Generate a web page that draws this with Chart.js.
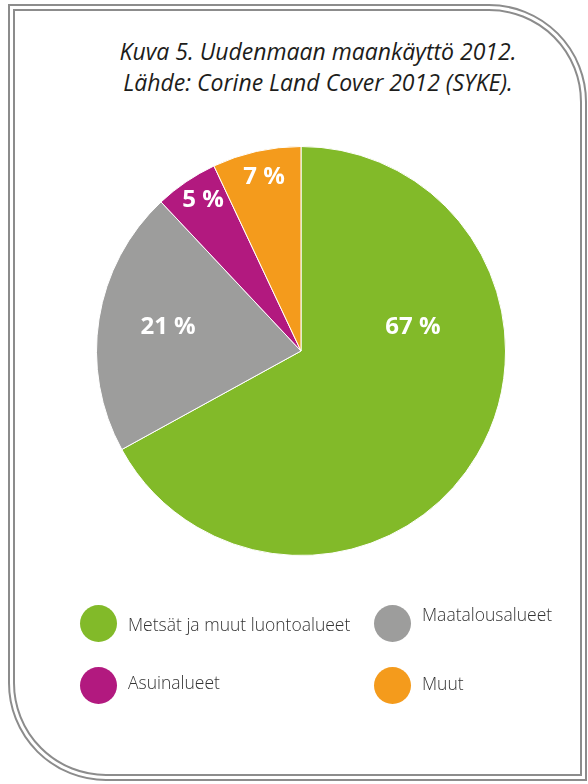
<!DOCTYPE html>
<html>
<head>
<meta charset="utf-8">
<script src="https://cdn.jsdelivr.net/npm/chart.js@4"></script>
<style>
  html, body { margin: 0; padding: 0; background: #fff; }
  #page { position: relative; width: 588px; height: 784px; overflow: hidden; font-family: "Open Sans", sans-serif; }
  #frame {
    position: absolute; left: 8px; top: 4px; width: 579px; height: 777px;
    box-sizing: border-box; border: 7px double #8c8c8c;
    border-radius: 0 98px 0 98px;
  }
  #title {
    position: absolute; left: 60px; width: 516px; top: 36px;
    text-align: center; font-style: italic; font-size: 23px; line-height: 31px; color: #1d1d1b;
  }
  #pieWrap { position: absolute; left: 96px; top: 146px; width: 410px; height: 410px; }
  #legend { position: absolute; left: 0; top: 0; width: 588px; height: 784px; pointer-events: none; }
  .item { position: absolute; display: flex; align-items: center; font-weight: 300; font-size: 17.5px; color: #333; }
  .dot { width: 37px; height: 37px; border-radius: 50%; margin-right: 11px; flex: none; }
</style>
</head>
<body>
<div id="page">
  <div id="frame"></div>
  <div id="title">Kuva 5. Uudenmaan maankäyttö 2012.<br>Lähde: Corine Land Cover 2012 (SYKE).</div>
  <div id="pieWrap"><canvas id="pie-chart" width="410" height="410"></canvas></div>
  <div id="legend"></div>
</div>
<script>
// ---------------------------------------------------
const categories = [ 'Metsät ja muut luontoalueet', 'Maatalousalueet', 'Asuinalueet', 'Muut' ];
const shares = [ 67, 21, 5, 7 ];
const colours = [ '#82ba29', '#9d9d9c', '#b2197f', '#f49b1c' ];
// ---------------------------------------------------
window.addEventListener( 'load', function () {
    // label placement inside each slice: angle from top (deg, clockwise), radius fraction
    const labelPlace = [ [ 78, 0.56 ], [ 280, 0.66 ], [ 327, 0.88 ], [ 348, 0.87 ] ];
    const sliceLabels = {
        id: 'sliceLabels',
        afterDatasetsDraw( chart ) {
            const ctx = chart.ctx;
            const arcs = chart.getDatasetMeta( 0 ).data;
            ctx.save();
            ctx.fillStyle = '#fff';
            ctx.font = 'bold 24px "Open Sans", sans-serif';
            ctx.textAlign = 'center';
            ctx.textBaseline = 'middle';
            arcs.forEach( ( arc, i ) => {
                const a = ( labelPlace[ i ][ 0 ] - 90 ) * Math.PI / 180;
                const r = arc.outerRadius * labelPlace[ i ][ 1 ];
                ctx.fillText( shares[ i ] + ' %', arc.x + Math.cos( a ) * r, arc.y + Math.sin( a ) * r );
            });
            ctx.restore();
        }
    };
    // ---------------------------------------------------
    const pieChart = new Chart( document.querySelector( '#pie-chart' ), {
        type: 'pie',
        data: {
            labels: categories,
            datasets: [ {
                data: shares,
                backgroundColor: colours,
                borderColor: '#fff',
                borderWidth: 1,
                hoverOffset: 0
            } ]
        },
        options: {
            responsive: false,
            animation: false,
            events: [],
            layout: { padding: 0 },
            plugins: { legend: { display: false }, tooltip: { enabled: false } }
        },
        plugins: [ sliceLabels ]
    });
    // ---------------------------------------------------
    // legend built from the chart's own labels and colours
    const slots = [ [ 80, 623, 0 ], [ 374, 623, -10 ], [ 80, 685, -4 ], [ 374, 685, -3 ] ];
    const legend = document.querySelector( '#legend' );
    pieChart.data.labels.forEach( ( label, i ) => {
        const item = document.createElement( 'div' );
        item.className = 'item';
        item.style.left = slots[ i ][ 0 ] + 'px';
        item.style.top = ( slots[ i ][ 1 ] - 18 ) + 'px';
        const dot = document.createElement( 'div' );
        dot.className = 'dot';
        dot.style.background = pieChart.data.datasets[ 0 ].backgroundColor[ i ];
        const txt = document.createElement( 'span' );
        txt.textContent = label;
        txt.style.position = 'relative';
        txt.style.top = slots[ i ][ 2 ] + 'px';
        item.appendChild( dot );
        item.appendChild( txt );
        legend.appendChild( item );
    });
}, false );
</script>
</body>
</html>
